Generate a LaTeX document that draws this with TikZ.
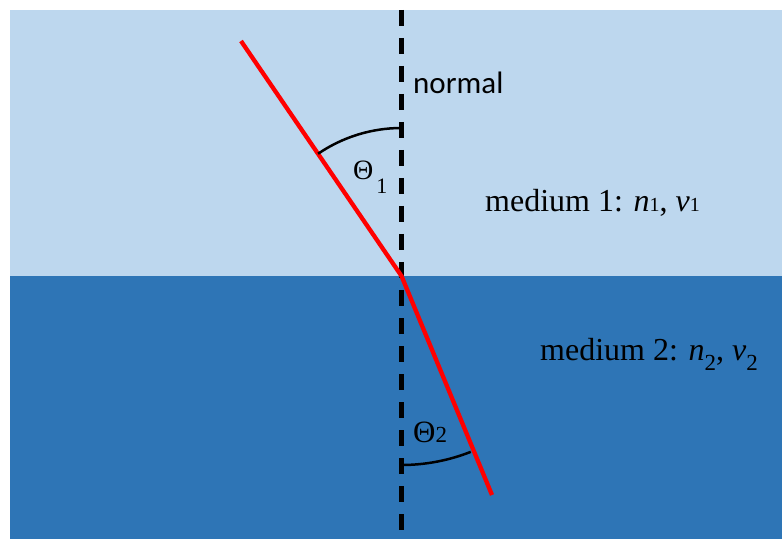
\documentclass[tikz,border=0pt]{standalone}
\usepackage{fontspec}
\setmainfont{Liberation Serif}
\newfontfamily\calfont{Carlito}
\definecolor{lightblue}{HTML}{BDD7EE}
\definecolor{darkblue}{HTML}{2E75B6}
\tikzset{
  normalline/.style={line width=4.3pt, dash pattern=on 16pt off 12pt},
  ray/.style={red, line width=4.3pt, line join=round},
  anglearc/.style={black, line width=2.5pt},
  lbl/.style={inner sep=0pt, anchor=base west},
}
\begin{document}
\begin{tikzpicture}[x=1pt,y=1pt]
\useasboundingbox (0,0) rectangle (782,539);
\fill[lightblue] (10,263) rectangle (782,529);
\fill[darkblue] (10,0) rectangle (782,263);
\coordinate (top) at (401.5,529);
\coordinate (bot) at (401.5,0);
\coordinate (O) at (401.5,263);
\coordinate (A) at (241,498);
\coordinate (B) at (492,44);
\draw[normalline] (top) -- (bot);
\draw[ray] (A) -- (O) -- (B);
\draw[anglearc] (O) ++(124.3:148) arc[start angle=124.3, end angle=90, radius=148];
\draw[anglearc] (O) ++(270:189) arc[start angle=270, end angle=291.5, radius=189];
\node[lbl] (nrm) at (413,445) {\calfont\fontsize{31}{31}\selectfont normal};
\node[lbl] (m1) at (485,327) {\fontsize{32}{32}\selectfont medium 1: \textit{n}{\fontsize{20}{20}\selectfont 1}, \textit{v}{\fontsize{20}{20}\selectfont 1}};
\node[lbl] (m2) at (540,179) {\fontsize{32}{32}\selectfont medium 2: \textit{n}\raisebox{-10pt}{\fontsize{23}{23}\selectfont 2}, \textit{v}\raisebox{-10pt}{\fontsize{23}{23}\selectfont 2}};
\node[lbl] (t1) at (353,359) {\fontsize{28}{28}\selectfont Θ\hspace{3pt}\raisebox{-14pt}{\fontsize{22}{22}\selectfont 1}};
\node[lbl] (t2) at (413,97) {\fontsize{31}{31}\selectfont Θ{\fontsize{23}{23}\selectfont 2}};
\end{tikzpicture}
\end{document}
